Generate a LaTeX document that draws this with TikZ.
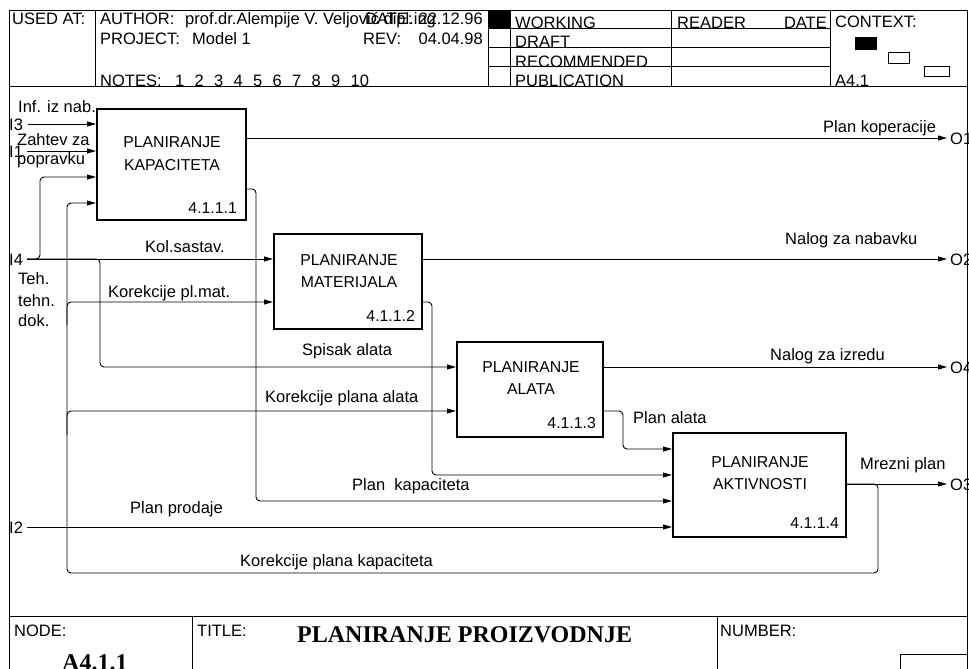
\documentclass[tikz,border=0pt]{standalone}
\usepackage{fontspec}
\setmainfont{Liberation Sans}
\newfontfamily\titleserif{Liberation Serif}
\usetikzlibrary{arrows.meta}
\newcommand\lblfont{\fontsize{16.5}{19}\selectfont}
\newcommand\boxfont{\fontsize{15.8}{19}\selectfont}
\newcommand\bigtitlefont{\titleserif\bfseries\fontsize{24}{28}\selectfont}
\tikzset{
  framel/.style={line width=1pt},
  procbox/.style={draw, line width=1.6pt, inner sep=0pt, anchor=north west},
  flow/.style={line width=0.9pt, -{Triangle[length=9pt,width=5pt]}, rounded corners=4pt},
  lbl/.style={anchor=base west, inner sep=0pt, font=\lblfont},
  lblr/.style={anchor=base east, inner sep=0pt, font=\lblfont},
  btxt/.style={anchor=base, inner sep=0pt, font=\boxfont},
  bnum/.style={anchor=base east, inner sep=0pt, font=\boxfont},
}
\begin{document}
\begin{tikzpicture}[x=1pt,y=-1pt]
\useasboundingbox (0,0) rectangle (969,669);
% ---------- frame ----------
\draw[framel] (9,669) -- (9,11) -- (967,11) -- (967,669);
\draw[framel] (9,86) -- (967,86);
\draw[framel] (9,616) -- (967,616);
\draw[framel] (95,11) -- (95,86);
\draw[framel] (488,11) -- (488,86);
\draw[framel] (510,11) -- (510,86);
\draw[framel] (671,11) -- (671,86);
\draw[framel] (830,11) -- (830,86);
\draw[framel] (488,29) -- (830,29);
\draw[framel] (488,48) -- (830,48);
\draw[framel] (488,67) -- (830,67);
\fill (488,11) rectangle (510,29);
\fill (855,37) rectangle (877,50);
\draw[line width=0.8pt] (888,52) rectangle (909,63);
\draw[line width=0.8pt] (924,66) rectangle (949,76);
\draw[framel] (192,616) -- (192,669);
\draw[framel] (717,616) -- (717,669);
\draw[framel] (900,669) -- (900,654) -- (967,654);
% ---------- header texts ----------
\node[lbl] (usedat) at (12,25) {USED AT:};
\node[lbl] (author) at (100,25) {AUTHOR:};
\node[lbl] (authorn) at (185,25) {prof.dr.Alempije V. Veljović dipl.ing};
\node[lbl] (date) at (365,25) {DATE:};
\node[lblr] (dateval) at (483,25) {22.12.96};
\node[lbl] (project) at (100,45) {PROJECT:};
\node[lbl] (projectn) at (192,45) {Model 1};
\node[lbl] (rev) at (363,45) {REV:};
\node[lblr] (revval) at (483,45) {04.04.98};
\node[lbl] (notes) at (100,86) {NOTES:};
\foreach \k in {1,...,10} {
  \node[lbl] (note\k) at ({175+19.5*(\k-1)},86) {\k};
}
\node[lbl] (working) at (515,29) {WORKING};
\node[lbl] (draft) at (515,48) {DRAFT};
\node[lbl] (recom) at (515,67) {RECOMMENDED};
\node[lbl] (public) at (515,86) {PUBLICATION};
\node[lbl] (reader) at (677,29) {READER};
\node[lblr] (rdate) at (827,29) {DATE};
\node[lbl] (context) at (835,28) {CONTEXT:};
\node[lbl] (ctxnode) at (835,86) {A4.1};
% ---------- footer texts ----------
\node[lbl] (nodelbl) at (14,636) {NODE:};
\node[lbl] (titlelbl) at (197,636) {TITLE:};
\node[lbl] (numberlbl) at (720,636) {NUMBER:};
\node[anchor=base west, inner sep=0pt, font=\bigtitlefont] (title) at (297,642) {PLANIRANJE PROIZVODNJE};
\node[anchor=base west, inner sep=0pt, font=\bigtitlefont] (nodeval) at (62,670) {A4.1.1};
% ---------- boxes ----------
\node[procbox, minimum width=149pt, minimum height=111pt] (b1) at (96,108) {};
\node[procbox, minimum width=148pt, minimum height=95pt] (b2) at (273,233) {};
\node[procbox, minimum width=146pt, minimum height=95pt] (b3) at (456,341) {};
\node[procbox, minimum width=173pt, minimum height=104pt] (b4) at (672,432) {};
\node[btxt] (b1t1) at (172,147) {PLANIRANJE};
\node[btxt] (b1t2) at (172,170) {KAPACITETA};
\node[bnum] (b1n) at (237,213) {4.1.1.1};
\node[btxt] (b2t1) at (349,265) {PLANIRANJE};
\node[btxt] (b2t2) at (349,287) {MATERIJALA};
\node[bnum] (b2n) at (415,321) {4.1.1.2};
\node[btxt] (b3t1) at (531,372) {PLANIRANJE};
\node[btxt] (b3t2) at (531,394) {ALATA};
\node[bnum] (b3n) at (596,428) {4.1.1.3};
\node[btxt] (b4t1) at (760,467) {PLANIRANJE};
\node[btxt] (b4t2) at (760,489) {AKTIVNOSTI};
\node[bnum] (b4n) at (839,528) {4.1.1.4};
% ---------- boundary coordinates ----------
\coordinate (i3) at (28,124);
\coordinate (i1) at (27,151);
\coordinate (i4) at (27,259);
\coordinate (i2) at (27,527);
\coordinate (o1) at (947,138);
\coordinate (o2) at (947,259);
\coordinate (o4) at (947,367);
\coordinate (o3) at (947,484);
% ---------- boundary labels ----------
\node[lbl] (li3) at (9,130) {I3};
\node[lbl] (li1) at (9,157) {I1};
\node[lbl] (li4) at (9,265) {I4};
\node[lbl] (li2) at (9,533) {I2};
\node[lbl] (lo1) at (950,144) {O1};
\node[lbl] (lo2) at (950,265) {O2};
\node[lbl] (lo4) at (950,373) {O4};
\node[lbl] (lo3) at (950,490) {O3};
% ---------- arrows ----------
\draw[flow] (i3) -- (b1.west |- i3);
\draw[flow] (i1) -- (b1.west |- i1);
\draw[flow] (i4) -- (b2.west |- i4);
\draw[flow] (i4) -- (40,259) -- (40,177) -- (b1.west |- 0,177);
\draw[flow] (i4) -- (100,259) -- (100,367) -- (b3.west |- 0,367);
\draw[flow] (b4.east |- o3) -- (o3);
\draw[flow] (b4.east |- o3) -- (878,484) -- (878,573) -- (67,573) -- (67,203) -- (b1.west |- 0,203);
\draw[flow] (67,325) -- (67,302) -- (b2.west |- 0,302);
\draw[flow] (67,435) -- (67,411) -- (b3.west |- 0,411);
\draw[flow] (b1.east |- o1) -- (o1);
\draw[flow] (b1.east |- 0,189) -- (256,189) -- (256,501) -- (b4.west |- 0,501);
\draw[flow] (b2.east |- o2) -- (o2);
\draw[flow] (b2.east |- 0,302) -- (432,302) -- (432,475) -- (b4.west |- 0,475);
\draw[flow] (b3.east |- o4) -- (o4);
\draw[flow] (b3.east |- 0,411) -- (623,411) -- (623,449) -- (b4.west |- 0,449);
\draw[flow] (i2) -- (b4.west |- i2);
% ---------- arrow labels ----------
\node[lbl] (linf) at (18,112) {Inf. iz nab.};
\node[lbl] (lzah) at (17,145) {Zahtev za};
\node[lbl] (lpop) at (17,164) {popravku};
\node[lbl] (lkol) at (145,252) {Kol.sastav.};
\node[lbl] (lteh1) at (18,284) {Teh.};
\node[lbl] (lteh2) at (18,306) {tehn.};
\node[lbl] (lteh3) at (18,326) {dok.};
\node[lbl] (lkpm) at (108,297) {Korekcije pl.mat.};
\node[lbl] (lspa) at (302,355) {Spisak alata};
\node[lbl] (lkpa) at (265,402) {Korekcije plana alata};
\node[lbl] (lpk) at (352,490) {Plan\ \ kapaciteta};
\node[lbl] (lpp) at (130,513) {Plan prodaje};
\node[lbl] (lkpk) at (240,566) {Korekcije plana kapaciteta};
\node[lbl] (lpa) at (633,423) {Plan alata};
\node[lbl] (lmp) at (860,469) {Mrezni plan};
\node[lbl] (lpko) at (823,132) {Plan koperacije};
\node[lbl] (lnn) at (785,244) {Nalog za nabavku};
\node[lbl] (lni) at (770,360) {Nalog za izredu};
\end{tikzpicture}
\end{document}
